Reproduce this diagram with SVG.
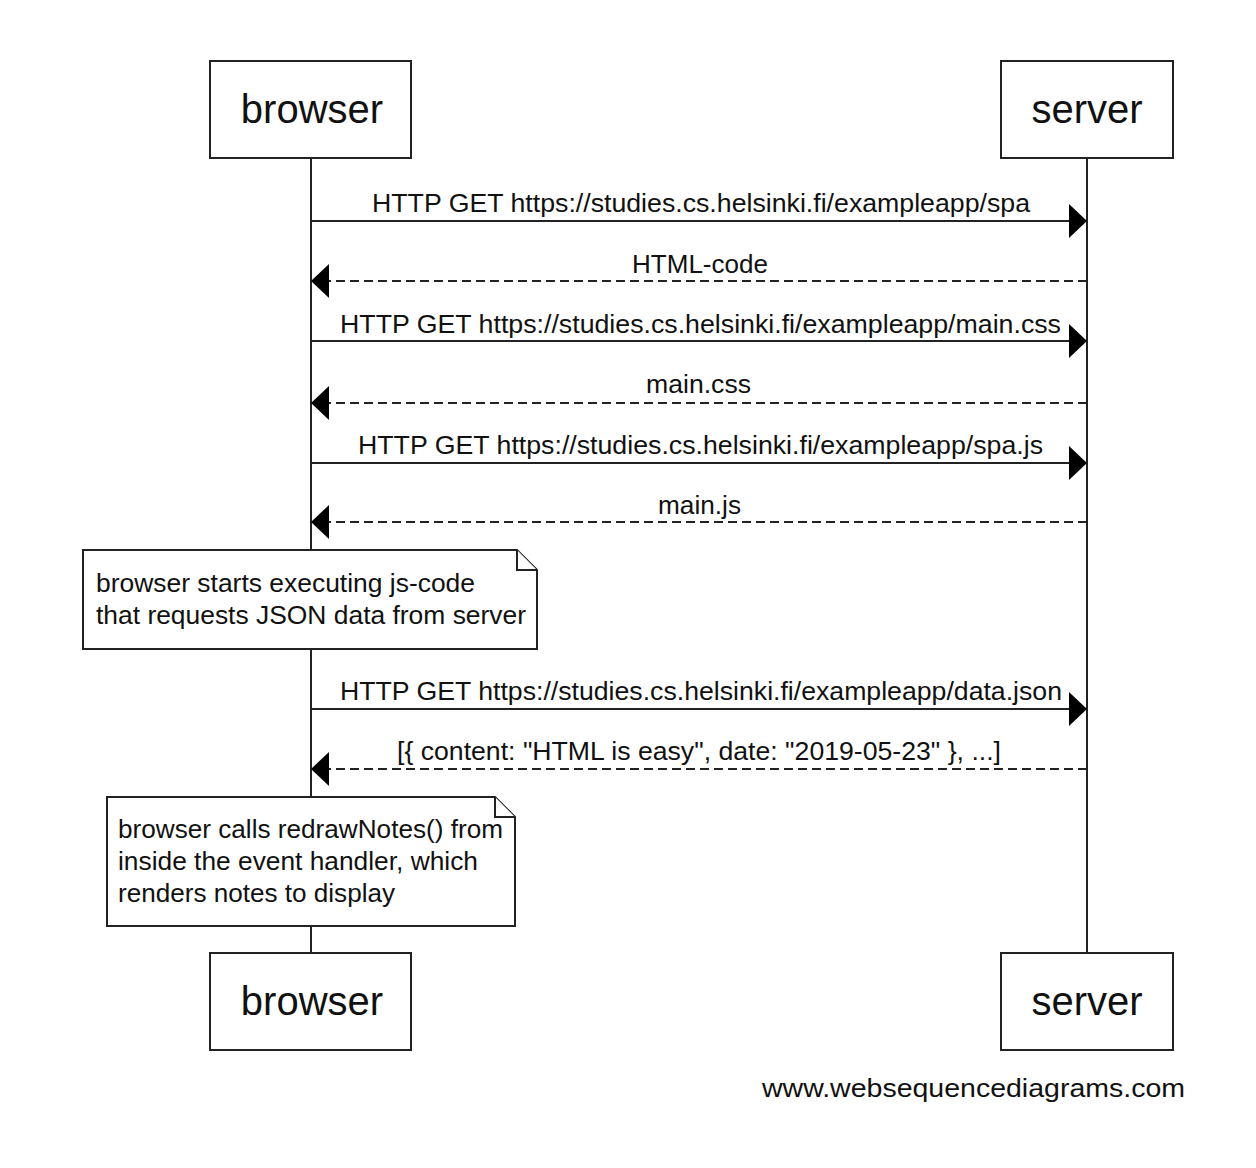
<svg xmlns="http://www.w3.org/2000/svg" width="1256" height="1168" viewBox="0 0 1256 1168">
<defs>
<style>
.box{fill:#fff;stroke:#222;stroke-width:2}
.life{stroke:#222;stroke-width:2}
.msg{stroke:#222;stroke-width:2;fill:none}
.dash{stroke-dasharray:9 5}
.pl{font-family:"Liberation Sans",Arial,sans-serif;font-size:40px;fill:#111;text-anchor:middle}
.t{font-family:"Liberation Sans",Arial,sans-serif;font-size:26px;fill:#111}
.note{fill:#fff;stroke:#222;stroke-width:2}
</style>
<marker id="ah" markerWidth="18" markerHeight="34" refX="18" refY="17" orient="auto" markerUnits="userSpaceOnUse">
<path d="M0,0 L18,17 L0,34 Z" fill="#000"/>
</marker>
</defs>
<rect width="1256" height="1168" fill="#fff"/>
<g id="lifelines">
<line class="life" x1="311" y1="158" x2="311" y2="953"/>
<line class="life" x1="1087" y1="158" x2="1087" y2="953"/>
</g>
<g id="connectors">
<line class="msg" x1="311" y1="221" x2="1087" y2="221" marker-end="url(#ah)"/>
<text class="t" x="372" y="212" textLength="658" lengthAdjust="spacingAndGlyphs">HTTP GET https://studies.cs.helsinki.fi/exampleapp/spa</text>
<line class="msg dash" x1="1087" y1="281" x2="311" y2="281" marker-end="url(#ah)"/>
<text class="t" x="632" y="273" textLength="136" lengthAdjust="spacingAndGlyphs">HTML-code</text>
<line class="msg" x1="311" y1="341" x2="1087" y2="341" marker-end="url(#ah)"/>
<text class="t" x="340" y="333" textLength="721" lengthAdjust="spacingAndGlyphs">HTTP GET https://studies.cs.helsinki.fi/exampleapp/main.css</text>
<line class="msg dash" x1="1087" y1="403" x2="311" y2="403" marker-end="url(#ah)"/>
<text class="t" x="646" y="393" textLength="105" lengthAdjust="spacingAndGlyphs">main.css</text>
<line class="msg" x1="311" y1="463" x2="1087" y2="463" marker-end="url(#ah)"/>
<text class="t" x="358" y="454" textLength="685" lengthAdjust="spacingAndGlyphs">HTTP GET https://studies.cs.helsinki.fi/exampleapp/spa.js</text>
<line class="msg dash" x1="1087" y1="522" x2="311" y2="522" marker-end="url(#ah)"/>
<text class="t" x="658" y="514" textLength="83" lengthAdjust="spacingAndGlyphs">main.js</text>
<line class="msg" x1="311" y1="709" x2="1087" y2="709" marker-end="url(#ah)"/>
<text class="t" x="340" y="700" textLength="722" lengthAdjust="spacingAndGlyphs">HTTP GET https://studies.cs.helsinki.fi/exampleapp/data.json</text>
<line class="msg dash" x1="1087" y1="769" x2="311" y2="769" marker-end="url(#ah)"/>
<text class="t" x="397" y="760" textLength="604" lengthAdjust="spacingAndGlyphs">[{ content: "HTML is easy", date: "2019-05-23" }, ...]</text>
</g>
<g id="browser-top">
<rect class="box" x="210" y="61" width="201" height="97"/>
<text class="pl" x="312" y="123">browser</text>
</g>
<g id="server-top">
<rect class="box" x="1001" y="61" width="172" height="97"/>
<text class="pl" x="1087" y="123">server</text>
</g>
<g id="note1">
<path class="note" d="M83,550 H517 L537,570 V649 H83 Z"/>
<path class="note" d="M517,550 V570 H537"/>
<text class="t" x="96" y="592" textLength="379" lengthAdjust="spacingAndGlyphs">browser starts executing js-code</text>
<text class="t" x="96" y="624" textLength="430" lengthAdjust="spacingAndGlyphs">that requests JSON data from server</text>
</g>
<g id="note2">
<path class="note" d="M107,797 H495 L515,817 V926 H107 Z"/>
<path class="note" d="M495,797 V817 H515"/>
<text class="t" x="118" y="838" textLength="385" lengthAdjust="spacingAndGlyphs">browser calls redrawNotes() from</text>
<text class="t" x="118" y="870" textLength="360" lengthAdjust="spacingAndGlyphs">inside the event handler, which</text>
<text class="t" x="118" y="902" textLength="277" lengthAdjust="spacingAndGlyphs">renders notes to display</text>
</g>
<g id="browser-bottom">
<rect class="box" x="210" y="953" width="201" height="97"/>
<text class="pl" x="312" y="1015">browser</text>
</g>
<g id="server-bottom">
<rect class="box" x="1001" y="953" width="172" height="97"/>
<text class="pl" x="1087" y="1015">server</text>
</g>
<text class="t" x="762" y="1097" textLength="423" lengthAdjust="spacingAndGlyphs">www.websequencediagrams.com</text>
</svg>
